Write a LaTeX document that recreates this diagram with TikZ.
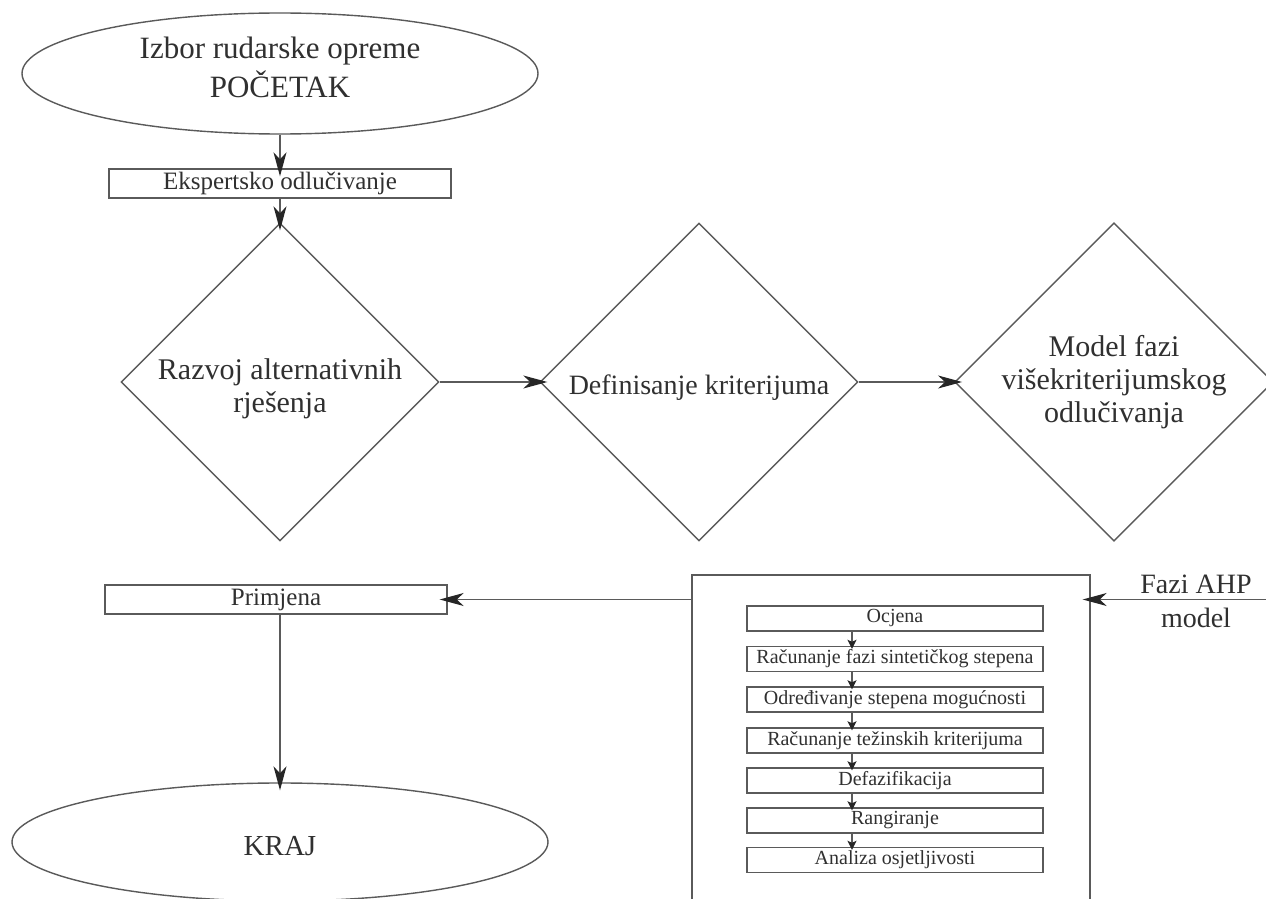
\documentclass[tikz,border=0pt]{standalone}
\usepackage{fontspec}
\setmainfont{Liberation Serif}
\usetikzlibrary{shapes.geometric,arrows.meta}
\definecolor{linec}{HTML}{5A5A5A}
\definecolor{textc}{HTML}{303030}
\definecolor{headc}{HTML}{262626}
\begin{document}
\begin{tikzpicture}[x=0.5pt,y=-0.5pt,
  every node/.style={text=textc},
  ln/.style={draw=linec, line width=0.7pt},
  bigarr/.style={ln, -{Stealth[length=12pt,width=6.5pt,inset=3.5pt,color=headc]}, shorten >=-4pt},
  smallarr/.style={ln, -{Stealth[length=4.5pt,width=4.5pt,inset=1pt,color=headc]}, shorten >=-1.5pt},
  term/.style={ellipse, draw=linec, line width=0.7pt, inner sep=0pt, align=center},
  dia/.style={diamond, draw=linec, line width=0.7pt, inner sep=0pt, minimum width=159pt, minimum height=159pt, align=center, font=\fontsize{15}{16.5}\selectfont},
  wbox/.style={rectangle, draw=linec, line width=0.7pt, inner sep=0pt, minimum width=171pt, minimum height=14.5pt, font=\fontsize{12.5}{15}\selectfont},
  sbox/.style={rectangle, draw=linec, line width=0.7pt, inner sep=0pt, minimum width=148pt, minimum height=12.5pt, font=\fontsize{10}{12}\selectfont},
]
\useasboundingbox (0,0) rectangle (1266,899);
\fill[white] (0,0) rectangle (1266,899);
\clip (0,0) rectangle (1266,899);

% main flow
\node[term, minimum width=258pt, minimum height=60.5pt, font=\fontsize{15.5}{19.5}\selectfont] (start) at (280,73.5) {Izbor rudarske opreme\\POČETAK\rule[-6pt]{0pt}{0pt}};
\node[wbox] (eksp) at (280,183.5) {Ekspertsko odlučivanje};
\node[dia] (d1) at (280,382) {\rule{0pt}{17pt}Razvoj alternativnih\\rješenja};
\node[dia, font=\fontsize{14}{16.5}\selectfont] (d2) at (699,382) {\rule{0pt}{15pt}Definisanje kriterijuma};
\node[dia] (d3) at (1114,382) {Model fazi\\višekriterijumskog\\odlučivanja};
\node[wbox] (prim) at (276,599.5) {Primjena};
\node[term, minimum width=268pt, minimum height=59pt, font=\fontsize{14.5}{17}\selectfont] (kraj) at (280,842) {\rule{0pt}{14pt}KRAJ};

% fuzzy AHP block
\node[rectangle, draw=linec, line width=0.7pt, minimum width=199pt, minimum height=177.5pt, inner sep=0pt] (ahp) at (891,752.5) {};
\node[sbox] (b1) at (895,618.5) {Ocjena};
\node[sbox] (b2) at (895,659) {Računanje fazi sintetičkog stepena};
\node[sbox] (b3) at (895,699.5) {Određivanje stepena mogućnosti};
\node[sbox] (b4) at (895,740.5) {Računanje težinskih kriterijuma};
\node[sbox] (b5) at (895,780.5) {Defazifikacija};
\node[sbox] (b6) at (895,820.5) {Rangiranje};
\node[sbox] (b7) at (895,860) {Analiza osjetljivosti};
\node[align=center, inner sep=0pt, font=\fontsize{14}{17}\selectfont] (fazi) at (1196,601) {Fazi AHP\\model};
\coordinate (src) at (1266,599.5);
\coordinate (ax) at (852,0);

% connectors
\draw[bigarr] (start.south) -- (eksp.north);
\draw[bigarr] (eksp.south) -- (d1.north);
\draw[bigarr] (d1.east) -- (d2.west);
\draw[bigarr] (d2.east) -- (d3.west);
\draw[bigarr] (src) -- (ahp.east |- src);
\draw[bigarr] (ahp.west |- src) -- (prim.east);
\draw[bigarr] (prim.south -| kraj.north) -- (kraj.north);
\foreach \a/\b in {b1/b2,b2/b3,b3/b4,b4/b5,b5/b6,b6/b7}
  \draw[smallarr] (\a.south -| ax) -- (\b.north -| ax);
\end{tikzpicture}
\end{document}
